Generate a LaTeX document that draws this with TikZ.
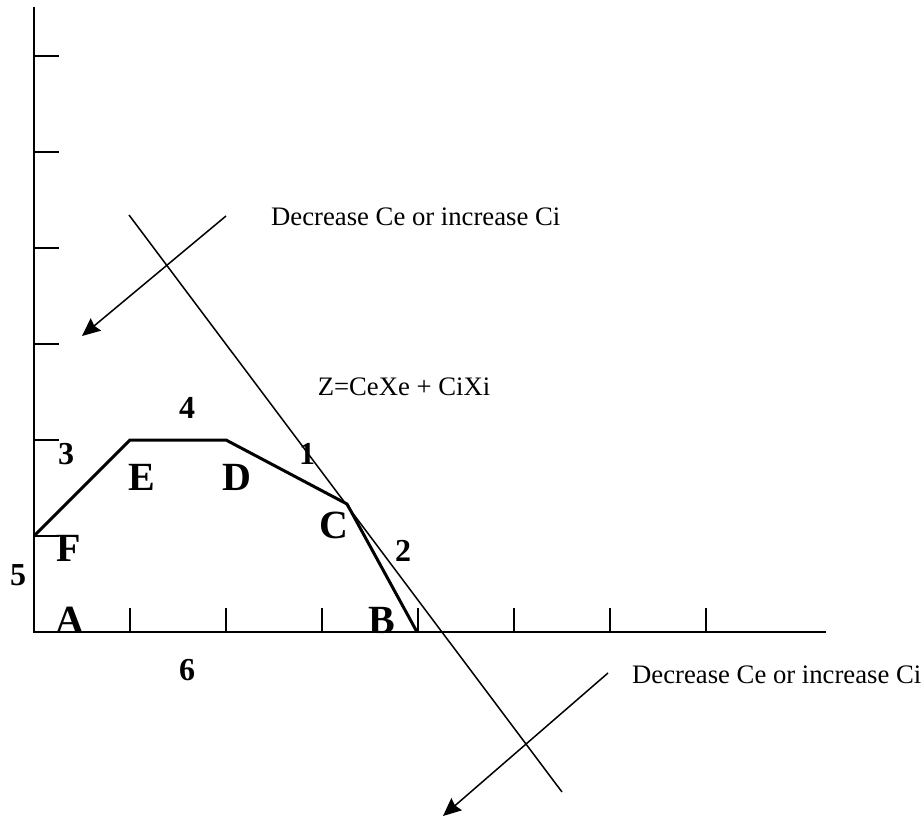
\documentclass[tikz,border=0pt]{standalone}
\usepackage{fontspec}
\setmainfont{Liberation Serif}
\usetikzlibrary{arrows.meta}

\begin{document}
\begin{tikzpicture}[x=1pt, y=-1pt,
    axis/.style={line width=1.8pt},
    tick/.style={line width=1.6pt},
    edge/.style={line width=3pt, line join=miter},
    obj/.style={line width=1.5pt},
    dir/.style={line width=1.5pt, -{Stealth[length=18pt, width=16pt, inset=2pt]}},
    pt/.style={font=\fontsize{40}{40}\selectfont\bfseries, inner sep=0pt},
    num/.style={font=\fontsize{32}{32}\selectfont\bfseries, inner sep=0pt},
    note/.style={font=\fontsize{26.7}{26.7}\selectfont, inner sep=0pt}]
  \useasboundingbox (0,0) rectangle (921,818);
  % axes and ticks
  \coordinate (O) at (34,632);
  \coordinate (ytop) at (34,7);
  \coordinate (xend) at (826,632);
  \draw[axis] (ytop) -- (O) -- (xend);
  \foreach \y in {56,152,248,344,440,536} \draw[tick] (34,\y) -- ++(25,0);
  \foreach \x in {130,226,322,418,514,610,706} \draw[tick] (\x,632) -- ++(0,-24);
  % feasible region
  \coordinate (F) at (34,536);
  \coordinate (E) at (130,440);
  \coordinate (D) at (226,440);
  \coordinate (C) at (347,504);
  \coordinate (B) at (417,632);
  \draw[edge] (F) -- (E) -- (D) -- (C) -- (B);
  % objective line
  \coordinate (z1) at (129,215);
  \coordinate (z2) at (562,792);
  \draw[obj] (z1) -- (z2);
  % direction arrows
  \coordinate (u1) at (226,216);
  \coordinate (u2) at (82,336);
  \coordinate (v1) at (608,673);
  \coordinate (v2) at (443,816);
  \draw[dir] (u1) -- (u2);
  \draw[dir] (v1) -- (v2);
  % corner labels
  \node[pt] (lA) at (70,620) {A};
  \node[pt] (lB) at (382,620) {B};
  \node[pt] (lC) at (334,525) {C};
  \node[pt] (lD) at (237,477) {D};
  \node[pt] (lE) at (142,477) {E};
  \node[pt] (lF) at (69,548) {F};
  % constraint numbers
  \node[num] (n1) at (307,454) {1};
  \node[num] (n2) at (403,551) {2};
  \node[num] (n3) at (66,454) {3};
  \node[num] (n4) at (187,408) {4};
  \node[num] (n5) at (18,575) {5};
  \node[num] (n6) at (187,670) {6};
  % notes
  \node[note, anchor=base] (zeq) at (404,395) {Z=CeXe + CiXi};
  \node[note, anchor=base west] (up) at (271,226) {Decrease Ce or increase Ci};
  \node[note, anchor=base west] (down) at (632,683) {Decrease Ce or increase Ci};
\end{tikzpicture}
\end{document}
